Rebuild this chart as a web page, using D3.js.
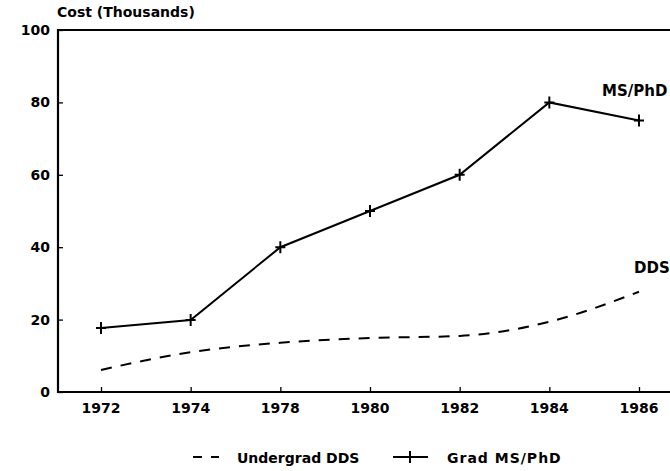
<!DOCTYPE html>
<html>
<head>
<meta charset="utf-8">
<script src="https://cdn.jsdelivr.net/npm/d3@7"></script>
<style>
  html, body { margin: 0; padding: 0; background: #fff; }
  svg text { font-family: "DejaVu Sans", sans-serif; font-weight: bold; fill: #000; }
</style>
</head>
<body>
<svg id="chart" width="670" height="471"></svg>
<script>
const years = ["1972", "1974", "1978", "1980", "1982", "1984", "1986"];
const undergradDDS = [6.1, 11, 13.6, 14.9, 15.5, 19.4, 27.7];
const gradMSPhD = [17.7, 19.9, 40, 50, 60, 80, 75];
const yTicks = [0, 20, 40, 60, 80, 100];
const seriesNames = ["Undergrad DDS", "Grad MS/PhD"];
const endLabels = ["DDS", "MS/PhD"];
const yTitle = "Cost (Thousands)";

(function () {
const svg = d3.select("#chart");
const pLeft = 58, pRight = 690, pTop = 30, pBottom = 392;

const x = d3.scalePoint().domain(years).range([101, 639]);
const y = d3.scaleLinear().domain([0, 100]).range([pBottom, pTop]);

// frame: top line
svg.append("line").attr("x1", pLeft).attr("x2", pRight).attr("y1", pTop).attr("y2", pTop)
  .attr("stroke", "#000").attr("stroke-width", 2);

// y axis
const yAxis = d3.axisRight(y).tickValues(yTicks).tickSize(5).tickFormat("");
const yg = svg.append("g").attr("transform", `translate(${pLeft},0)`).call(yAxis);
yg.select(".domain").remove();
yg.selectAll("line").attr("stroke", "#000").attr("stroke-width", 1.3);
svg.append("line").attr("x1", pLeft).attr("x2", pLeft).attr("y1", pTop - 1).attr("y2", pBottom + 1)
  .attr("stroke", "#000").attr("stroke-width", 2.2);
svg.append("g").selectAll("text").data(yTicks).join("text")
  .attr("x", pLeft - 8).attr("y", d => y(d)).attr("dy", "0.36em")
  .attr("text-anchor", "end").attr("font-size", 14).text(d => d);

// x axis
const xAxis = d3.axisTop(x).tickSize(5).tickFormat("");
const xg = svg.append("g").attr("transform", `translate(0,${pBottom})`).call(xAxis);
xg.select(".domain").remove();
xg.selectAll("line").attr("stroke", "#000").attr("stroke-width", 1.3);
svg.append("line").attr("x1", pLeft).attr("x2", pRight).attr("y1", pBottom).attr("y2", pBottom)
  .attr("stroke", "#000").attr("stroke-width", 2);
svg.append("g").selectAll("text").data(years).join("text")
  .attr("x", d => x(d)).attr("y", 413).attr("text-anchor", "middle")
  .attr("font-size", 14).text(d => d);

// y title
svg.append("text").attr("x", 57).attr("y", 17).attr("font-size", 14).text(yTitle);

// undergrad dashed smooth line
const lineU = d3.line().x((d, i) => x(years[i])).y(d => y(d)).curve(d3.curveMonotoneX);
svg.append("path").datum(undergradDDS).attr("d", lineU)
  .attr("fill", "none").attr("stroke", "#000").attr("stroke-width", 2)
  .attr("stroke-dasharray", "11,9");

// grad solid line
const lineG = d3.line().x((d, i) => x(years[i])).y(d => y(d));
svg.append("path").datum(gradMSPhD).attr("d", lineG)
  .attr("fill", "none").attr("stroke", "#000").attr("stroke-width", 2);
svg.append("g").selectAll("path").data(gradMSPhD).join("path")
  .attr("d", "M-5,0H5M0,-6V6")
  .attr("transform", (d, i) => `translate(${x(years[i])},${y(d)})`)
  .attr("stroke", "#000").attr("stroke-width", 2).attr("fill", "none");

// end labels
svg.append("text").attr("x", 634).attr("y", 273).attr("font-size", 15).text(endLabels[0]);
svg.append("text").attr("x", 602).attr("y", 96).attr("font-size", 15).text(endLabels[1]);

// legend
svg.append("line").attr("x1", 193).attr("x2", 219).attr("y1", 457).attr("y2", 457)
  .attr("stroke", "#000").attr("stroke-width", 2).attr("stroke-dasharray", "9,9");
svg.append("text").attr("x", 237).attr("y", 463).attr("font-size", 14).text(seriesNames[0]);
svg.append("line").attr("x1", 393).attr("x2", 428).attr("y1", 457).attr("y2", 457)
  .attr("stroke", "#000").attr("stroke-width", 2);
svg.append("line").attr("x1", 410).attr("x2", 410).attr("y1", 451).attr("y2", 463)
  .attr("stroke", "#000").attr("stroke-width", 2);
svg.append("text").attr("x", 447).attr("y", 463).attr("font-size", 14)
  .attr("letter-spacing", 1).text(seriesNames[1]);
})();
</script>
</body>
</html>
